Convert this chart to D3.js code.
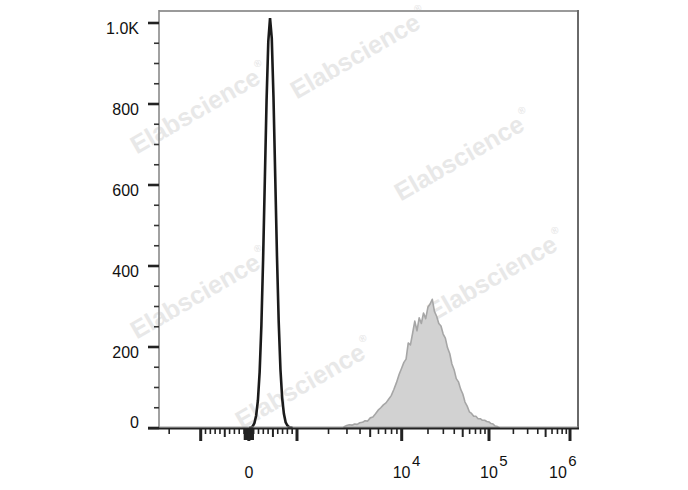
<!DOCTYPE html>
<html><head><meta charset="utf-8">
<script src="https://cdn.jsdelivr.net/npm/d3@7"></script>
<style>html,body{margin:0;padding:0;background:#fff}svg{display:block}</style>
</head><body>
<script>
// ---------- data ----------
const yTickValues = [0, 200, 400, 600, 800, 1000];
const yTickLabels = ["0", "200", "400", "600", "800", "1.0K"];
const yMinorValues = [50,100,150,250,300,350,450,500,550,650,700,750,850,900,950];

const xMajorValues = [-1000, 0, 1000, 10000, 100000, 1000000];
const xMidValues = [-500, 500, 5000, 50000, 500000];
const xMinorValues = [-2000,-900,-800,-700,-600,-400,-300,-200,-100,
  100,200,300,400,600,700,800,900,
  2000,3000,4000,6000,7000,8000,9000,
  20000,30000,40000,60000,70000,80000,90000,
  200000,300000,400000,600000,700000,800000,900000];
const xNearZeroValues = [-90,-80,-70,-60,-50,-40,-30,-20,-10,10,20,30,40,50,60,70,80,90];
const xLabelValues = [0, 10000, 100000, 1000000];
const xLabelBase = ["0", "10", "10", "10"];
const xLabelExp = ["", "4", "5", "6"];

// unstained control (black outline)
const blackX = [8,44,80,116,152,188,224,260,296,332,368,404,440,476,512,548,584,620,656,692,728,764,800,836,872,908];
const blackCount = [0,1,4,12,31,68,138,252,416,613,809,955,1012,962,815,620,425,262,145,74,35,14,6,2,1,0];

// stained sample (grey filled), x as log10 of intensity
const grayExp = [3.450,3.475,3.500,3.525,3.550,3.575,3.600,3.625,3.650,3.675,3.700,3.725,3.750,3.775,3.800,3.825,3.850,3.875,3.900,3.925,3.950,3.975,
  4.000,4.025,4.050,4.075,4.100,4.125,4.150,4.175,4.200,4.225,4.250,4.275,4.300,4.325,4.350,4.375,4.400,4.425,4.450,4.475,4.500,4.525,4.550,4.575,4.600,4.625,4.650,4.675,4.700,4.725,4.750,4.775,4.800,4.825,4.850,4.875,4.900,4.925,4.950,4.975,
  5.000,5.025,5.050,5.075,5.100,5.125];
const grayCount = [3,6,8,7,10,9,13,14,18,17,25,27,35,44,50,57,62,71,80,95,112,132,
  148,162,170,210,205,234,264,240,272,258,284,270,298,306,318,288,276,258,252,232,222,198,184,158,144,122,114,96,84,64,54,40,36,29,29,23,23,19,19,16,
  15,11,10,5,4,1];

// ---------- layout ----------
const W = 688, H = 490;
const PL = 159, PR = 578, PT = 11, PB = 428;

const svg = d3.select("body").append("svg").attr("width", W).attr("height", H);

// scales
const y = d3.scaleLinear().domain([0, 1000]).range([PB, 23]);
const lin = d3.scaleLinear().domain([-1000, 1000]).range([200.7, 297]);
const dec = d3.scaleLinear().domain([3, 4, 5, 6]).range([297, 401.7, 489, 570]);
function x(v) {
  if (Math.abs(v) <= 1000) return lin(v);
  const p = dec(Math.log10(Math.abs(v)));
  return v > 0 ? p : 2 * lin(0) - p;
}

// watermarks
const wm = [[360, 55], [464, 157], [200, 110], [200, 295], [497, 277], [305, 385]];
wm.forEach(([cx, cy]) => {
  const t = svg.append("text")
    .attr("transform", `translate(${cx},${cy}) rotate(-30)`)
    .attr("text-anchor", "middle")
    .attr("dominant-baseline", "middle")
    .attr("font-family", "'Liberation Sans', Arial, sans-serif")
    .attr("font-weight", "bold")
    .attr("font-size", 25)
    .attr("fill", "#e8e8e8");
  t.append("tspan").text("Elabscience");
  t.append("tspan").attr("font-size", 10).attr("dy", -11).attr("dx", 2).text("®");
});

// grey histogram
const grayData = grayExp.map((e, i) => ({ v: Math.pow(10, e), c: grayCount[i] }));
svg.append("path")
  .datum(grayData)
  .attr("d", d3.area().x(d => x(d.v)).y0(PB).y1(d => y(d.c)))
  .attr("fill", "#d2d2d2")
  .attr("stroke", "#a6a6a6")
  .attr("stroke-width", 1.6)
  .attr("stroke-linejoin", "round");

// black histogram
const blackData = blackX.map((v, i) => ({ v, c: blackCount[i] }));
svg.append("path")
  .datum(blackData)
  .attr("d", d3.line().x(d => x(d.v)).y(d => y(d.c)))
  .attr("fill", "none")
  .attr("stroke", "#1a1a1a")
  .attr("stroke-width", 2.6)
  .attr("stroke-linejoin", "miter");

// frame
svg.append("line").attr("x1", PL).attr("x2", PR).attr("y1", PT).attr("y2", PT)
  .attr("stroke", "#9a9a9a").attr("stroke-width", 2);
svg.append("line").attr("x1", PR).attr("x2", PR).attr("y1", PT - 1).attr("y2", PB)
  .attr("stroke", "#6a6a6a").attr("stroke-width", 2);
svg.append("line").attr("x1", PL).attr("x2", PL).attr("y1", PT - 1).attr("y2", PB)
  .attr("stroke", "#8a8a8a").attr("stroke-width", 1.6);
svg.append("line").attr("x1", PL).attr("x2", PR).attr("y1", PB - 1).attr("y2", PB - 1)
  .attr("stroke", "#9a9a9a").attr("stroke-width", 1);
svg.append("line").attr("x1", 148).attr("x2", PR + 1).attr("y1", PB + 0.5).attr("y2", PB + 0.5)
  .attr("stroke", "#222").attr("stroke-width", 2);

// y ticks
const gy = svg.append("g");
gy.selectAll(".ymaj").data(yTickValues).join("line")
  .attr("x1", 148).attr("x2", PL).attr("y1", d => y(d)).attr("y2", d => y(d))
  .attr("stroke", "#222").attr("stroke-width", 2.6);
gy.selectAll(".ymin").data(yMinorValues).join("line")
  .attr("x1", 154).attr("x2", PL).attr("y1", d => y(d)).attr("y2", d => y(d))
  .attr("stroke", "#333").attr("stroke-width", 1.6);
gy.selectAll("text").data(yTickValues).join("text")
  .attr("x", 139)
  .attr("y", d => y(d) + (d === 0 ? -6 : 5))
  .attr("dy", "0.36em")
  .attr("text-anchor", "end")
  .attr("font-family", "'Liberation Sans', Arial, sans-serif")
  .attr("font-size", 16)
  .attr("fill", "#111")
  .text((d, i) => yTickLabels[i]);

// x ticks
const gx = svg.append("g");
function ticks(vals, len, w) {
  gx.append("g").selectAll("line").data(vals).join("line")
    .attr("x1", d => x(d)).attr("x2", d => x(d))
    .attr("y1", PB).attr("y2", PB + len)
    .attr("stroke", "#222").attr("stroke-width", w);
}
ticks(xMinorValues, 6, 1.6);
ticks(xNearZeroValues, 12, 1.6);
ticks(xMidValues, 9, 2);
ticks(xMajorValues, 13, 3);

// x labels
xLabelValues.forEach((v, i) => {
  const cx = x(v) + (i === xLabelValues.length - 1 ? -12 : 0);
  const t = svg.append("text")
    .attr("x", cx + (xLabelExp[i] ? -9 : 0))
    .attr("y", 478)
    .attr("font-family", "'Liberation Sans', Arial, sans-serif")
    .attr("font-size", 16)
    .attr("fill", "#111")
    .attr("text-anchor", xLabelExp[i] ? "start" : "middle");
  t.append("tspan").text(xLabelBase[i]);
  if (xLabelExp[i]) t.append("tspan").attr("dx", 1.5).attr("dy", -12.5).attr("font-size", 15).text(xLabelExp[i]);
});
</script>
</body></html>
